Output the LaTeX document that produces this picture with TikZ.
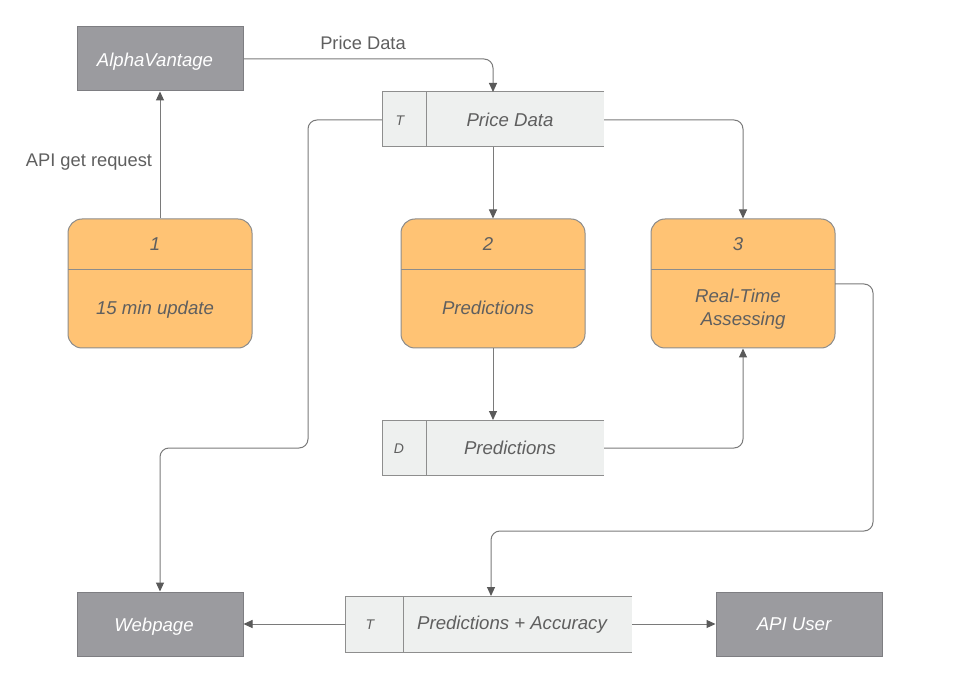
\documentclass[tikz,border=0pt]{standalone}
\usepackage{fontspec}
\setmainfont{Liberation Sans}
\usetikzlibrary{arrows.meta}
\definecolor{extfill}{HTML}{9B9B9F}
\definecolor{extdraw}{HTML}{7E7E82}
\definecolor{procfill}{HTML}{FFC374}
\definecolor{procdraw}{HTML}{8C8C8C}
\definecolor{storefill}{HTML}{EEF0EF}
\definecolor{storedraw}{HTML}{8E8E8E}
\definecolor{txt}{HTML}{5F5F5F}
\definecolor{lineclr}{HTML}{7A7A7A}
\definecolor{tipclr}{HTML}{5A5A5A}
\tikzset{
  txtfont/.style={font=\fontsize{18.6}{22}\selectfont\itshape, yshift=-2.5pt},
  lblfont/.style={font=\fontsize{18.3}{22}\selectfont, text=txt, yshift=-2pt},
  ext/.style={draw=extdraw, fill=extfill, line width=1pt, minimum width=166pt, minimum height=64pt, inner sep=0pt},
  exttext/.style={text=white, txtfont},
  proc/.style={draw=procdraw, fill=procfill, line width=1pt, rounded corners=14pt, minimum width=184pt, minimum height=129pt, inner sep=0pt},
  flow/.style={draw=lineclr, line width=1pt, rounded corners=9pt, -{Triangle[length=9pt,width=8pt,fill=tipclr,color=tipclr]}},
  ptext/.style={text=txt, txtfont, align=center},
  stext/.style={text=txt, txtfont},
  tagtext/.style={text=txt, font=\fontsize{14}{16}\selectfont\itshape, yshift=-1pt},
}
\begin{document}
\begin{tikzpicture}[x=1pt,y=-1pt]
\useasboundingbox (0,0) rectangle (961,684);
\fill[white] (0,0) rectangle (961,684);

% external entities
\node[ext] (alpha) at (160,59) {};
\node[exttext] (alphat) at (155,59) {AlphaVantage};
\node[ext] (web) at (160,624) {};
\node[exttext] (webt) at (154,624) {Webpage};
\node[ext] (apiuser) at (799,624) {};
\node[exttext] (apiusert) at (794,622) {API User};

% processes
\node[proc] (p1) at (160,283.5) {};
\draw[procdraw, line width=1pt] (68,270) -- (252,270);
\node[ptext] (p1n) at (155,242) {1};
\node[ptext] (p1t) at (155,307) {15 min update};

\node[proc] (p2) at (493,283.5) {};
\draw[procdraw, line width=1pt] (401,270) -- (585,270);
\node[ptext] (p2n) at (488,242) {2};
\node[ptext] (p2t) at (488,305) {Predictions};

\node[proc] (p3) at (743,283.5) {};
\draw[procdraw, line width=1pt] (651,270) -- (835,270);
\node[ptext] (p3n) at (738,242) {3};
\node[ptext, font=\fontsize{18.6}{23}\selectfont\itshape] (p3t) at (738,307) {Real-Time\\\ \ Assessing};

% data store: Price Data
\fill[storefill] (382,92) rectangle (604,147);
\draw[storedraw, line width=1pt] (604,92) -- (382,92) -- (382,147) -- (604,147);
\draw[storedraw, line width=1pt] (426,92) -- (426,147);
\coordinate (pdtop) at (493,92);
\coordinate (pdbot) at (493,147);
\coordinate (pdleft) at (382,120);
\coordinate (pdright) at (604,120);
\node[tagtext] (pdtag) at (400,120) {T};
\node[stext] (pdlbl) at (510,117) {Price Data};

% data store: Predictions
\fill[storefill] (382,420) rectangle (604,475);
\draw[storedraw, line width=1pt] (604,420) -- (382,420) -- (382,475) -- (604,475);
\draw[storedraw, line width=1pt] (426,420) -- (426,475);
\coordinate (prtop) at (493,420);
\coordinate (prright) at (604,448);
\node[tagtext] (prtag) at (399,448) {D};
\node[stext] (prlbl) at (510,445) {Predictions};

% data store: Predictions + Accuracy
\fill[storefill] (345,596) rectangle (632,652);
\draw[storedraw, line width=1pt] (632,596) -- (345,596) -- (345,652) -- (632,652);
\draw[storedraw, line width=1pt] (403,596) -- (403,652);
\coordinate (patop) at (491,596);
\coordinate (paleft) at (345,624);
\coordinate (paright) at (632,624);
\node[tagtext] (patag) at (370,624) {T};
\node[stext] (palbl) at (512,622) {Predictions + Accuracy};

% connectors
\draw[flow] (p1.north) -- (alpha.south);
\node[lblfont] (lbl1) at (89,160) {API get request};
\draw[flow] (alpha.east) -- (493,59) -- (pdtop);
\node[lblfont] (lbl2) at (363,41) {Price Data};
\draw[flow] (pdbot) -- (p2.north);
\draw[flow] (pdright) -- (743,120) -- (p3.north);
\draw[flow] (pdleft) -- (308,120) -- (308,448) -- (160,448) -- (web.north);
\draw[flow] (p2.south) -- (prtop);
\draw[flow] (prright) -- (743,448) -- (p3.south);
\draw[flow] (835,284) -- (873,284) -- (873,531) -- (491,531) -- (patop);
\draw[flow] (paleft) -- (web.east);
\draw[flow] (paright) -- (apiuser.west);
\end{tikzpicture}
\end{document}
